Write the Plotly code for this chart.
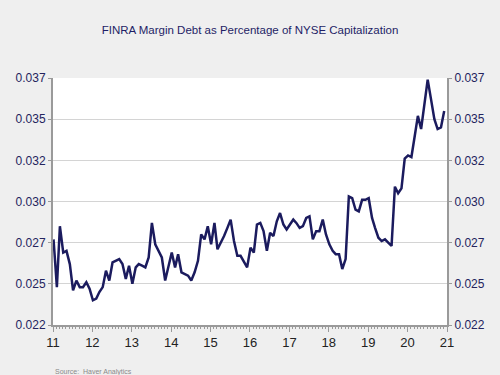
import pandas as pd
import plotly.graph_objects as go

title_text = "FINRA Margin Debt as Percentage of NYSE Capitalization"
source_text = "Source:  Haver Analytics"

start_month = "2011-01-01"
margin_ratio = [
    0.0277, 0.0248, 0.0285, 0.0269, 0.0270, 0.0262, 0.0246, 0.0252, 0.0248, 0.0248, 0.0251, 0.0247,
    0.0240, 0.0241, 0.0245, 0.0248, 0.0258, 0.0252, 0.0263, 0.0264, 0.0265, 0.0262, 0.0253, 0.0261,
    0.0250, 0.0260, 0.0262, 0.0261, 0.0260, 0.0266, 0.0287, 0.0274, 0.0270, 0.0266, 0.0252, 0.0261,
    0.0269, 0.0260, 0.0268, 0.0257, 0.0256, 0.0255, 0.0252, 0.0257, 0.0264, 0.0280, 0.0277, 0.0285,
    0.0274, 0.0287, 0.0271, 0.0275, 0.0279, 0.0284, 0.0289, 0.0276, 0.0267, 0.0267, 0.0263, 0.0260,
    0.0272, 0.0269, 0.0286, 0.0287, 0.0282, 0.0270, 0.0281, 0.0279, 0.0288, 0.0293, 0.0286, 0.0283,
    0.0286, 0.0289, 0.0287, 0.0284, 0.0285, 0.0290, 0.0291, 0.0277, 0.0282, 0.0282, 0.0289, 0.0280,
    0.0274, 0.0270, 0.0268, 0.0268, 0.0259, 0.0265, 0.0303, 0.0302, 0.0295, 0.0294, 0.0301, 0.0301,
    0.0302, 0.0290, 0.0284, 0.0278, 0.0276, 0.0277, 0.0275, 0.0273, 0.0309, 0.0305, 0.0308, 0.0326,
    0.0328, 0.0327, 0.0339, 0.0352, 0.0344, 0.0360, 0.0374, 0.0362, 0.0350, 0.0344, 0.0345, 0.0355,
]
dates = pd.date_range(start=start_month, periods=len(margin_ratio), freq="MS") + pd.Timedelta(days=5)

y_tick_vals = [0.0225, 0.0250, 0.0275, 0.0300, 0.0325, 0.0350, 0.0375]
y_tick_text = ["0.022", "0.025", "0.027", "0.030", "0.032", "0.035", "0.037"]
x_tick_vals = [f"{y}-01-01" for y in range(2011, 2022)]
x_tick_text = ["11", "12", "13", "14", "15", "16", "17", "18", "19", "20", "21"]

navy = "#1b1b5e"
label_color = "#24245e"
axis_grey = "#9a9a9a"

fig = go.Figure()
fig.add_trace(go.Scatter(x=dates, y=margin_ratio, mode="lines",
                         line=dict(color=navy, width=2.5), showlegend=False))
fig.add_trace(go.Scatter(x=dates, y=margin_ratio, mode="lines", yaxis="y2",
                         opacity=0, hoverinfo="skip", showlegend=False))

yaxis_common = dict(
    range=[0.0225, 0.0375], tickvals=y_tick_vals, ticktext=y_tick_text,
    tickfont=dict(family="Liberation Sans, Arial", size=12, color=label_color),
    showline=True, linecolor=axis_grey, linewidth=2,
    ticks="outside", ticklen=3, tickcolor=axis_grey, zeroline=False,
    automargin=False,
)

fig.update_layout(
    width=500, height=375,
    margin=dict(l=53, r=53, t=78, b=50, autoexpand=False),
    paper_bgcolor="#efefef", plot_bgcolor="white",
    title=dict(text=title_text, x=0.5, xanchor="center", y=0.92, yanchor="middle",
               font=dict(family="Liberation Sans, Arial", size=11.5, color="#1e1e66"),
               automargin=False),
    xaxis=dict(
        range=["2011-01-01", "2021-01-01"], tickvals=x_tick_vals, ticktext=x_tick_text,
        tickfont=dict(family="Liberation Sans, Arial", size=13, color="#222222"),
        showline=True, linecolor=axis_grey, linewidth=1.5,
        ticks="outside", ticklen=5, tickcolor=axis_grey, showgrid=False,
        minor=dict(ticks="outside", ticklen=2.5, tickcolor=axis_grey, dtick="M1",
                   tick0="2011-01-01", showgrid=False),
        automargin=False,
    ),
    yaxis=dict(**yaxis_common, showgrid=True, gridcolor="#d4d4d4", gridwidth=1),
    yaxis2=dict(**yaxis_common, overlaying="y", side="right", showgrid=False),
)

fig.add_annotation(text=source_text, xref="paper", yref="paper", x=0.0, y=-0.19,
                   xanchor="left", yanchor="middle", showarrow=False,
                   font=dict(family="Liberation Sans, Arial", size=7, color="#8a8a8a"))

fig.write_html("out.html", config={"displayModeBar": False},
               post_script="document.body.style.margin='0';document.body.style.background='#efefef';")
